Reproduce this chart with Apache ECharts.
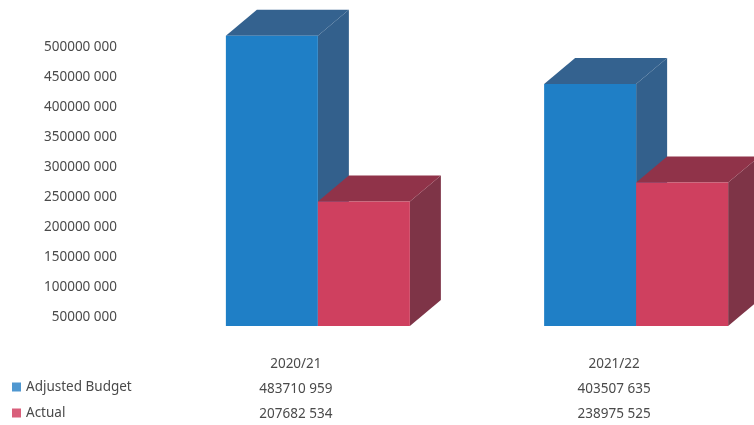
<!DOCTYPE html>
<html>
<head>
<meta charset="utf-8">
<style>html,body{margin:0;padding:0;background:#fff}#c{width:754px;height:425px}</style>
<script src="https://cdn.jsdelivr.net/npm/echarts@6/dist/echarts.min.js"></script>
</head>
<body>
<div id="c"></div>
<script>
const categories = ['2020/21', '2021/22'];
const adjustedBudget = [483710959, 403507635];
const actual = [207682534, 238975525];
const seriesNames = ['Adjusted Budget', 'Actual'];
const axisTicks = [50000000, 100000000, 150000000, 200000000, 250000000, 300000000, 350000000, 400000000, 450000000, 500000000];

const FONT = '"Noto Sans", "Open Sans", sans-serif';
const TEXT = '#4a4a4a';
const BAR_W = 92, DX = 31, DY = 26, SHIFT = 22;

function fmt(v) {
  const s = String(v);
  return s.slice(0, -3) + ' ' + s.slice(-3);
}

function bar3d(side, front, top, right) {
  return function (params, api) {
    const idx = api.value(0);
    const c = api.coord([idx, api.value(1)]);
    const b = api.coord([idx, 0]);
    const x0 = c[0] + SHIFT + (side === 0 ? -BAR_W : 0);
    const x1 = x0 + BAR_W;
    const y0 = c[1], y1 = b[1];
    return {
      type: 'group',
      children: [
        { type: 'polygon', shape: { points: [[x1, y0], [x1 + DX, y0 - DY], [x1 + DX, y1 - DY], [x1, y1]] }, style: { fill: right } },
        { type: 'polygon', shape: { points: [[x0, y0], [x0 + DX, y0 - DY], [x1 + DX, y0 - DY], [x1, y0]] }, style: { fill: top } },
        { type: 'rect', shape: { x: x0, y: y0, width: BAR_W, height: y1 - y0 }, style: { fill: front } }
      ]
    };
  };
}

const chart = echarts.init(document.getElementById('c'), null, { renderer: 'canvas' });
chart.setOption({
  animation: false,
  backgroundColor: '#ffffff',
  grid: { left: 136.75, top: -4, width: 636.5, height: 330, containLabel: false, outerBoundsMode: 'none' },
  legend: {
    orient: 'vertical', left: 12, top: 380, height: 45, padding: 0,
    itemWidth: 9, itemHeight: 9, itemGap: 12,
    icon: 'rect',
    textStyle: { fontFamily: FONT, fontSize: 13.5, color: TEXT },
    data: [
      { name: seriesNames[0], itemStyle: { color: '#4f97d0' } },
      { name: seriesNames[1], itemStyle: { color: '#d95f7b' } }
    ]
  },
  xAxis: {
    type: 'category',
    data: categories,
    axisLine: { show: false },
    axisTick: { show: false },
    axisLabel: {
      margin: 26,
      interval: 0,
      fontFamily: FONT,
      fontSize: 13.5,
      color: TEXT,
      lineHeight: 25,
      formatter: function (v, i) {
        return v + '\n' + fmt(adjustedBudget[i]) + '\n' + fmt(actual[i]);
      }
    }
  },
  yAxis: {
    type: 'value',
    min: 0,
    max: axisTicks[axisTicks.length - 1] + axisTicks[0],
    interval: axisTicks[0],
    splitLine: { show: false },
    axisLine: { show: false },
    axisTick: { show: false },
    axisLabel: {
      margin: 19.75,
      showMinLabel: false,
      showMaxLabel: false,
      hideOverlap: false,
      fontFamily: FONT,
      fontSize: 13.5,
      color: TEXT,
      verticalAlign: 'top',
      lineHeight: 42,
      formatter: function (v) { return fmt(v); }
    }
  },
  series: [
    {
      name: seriesNames[0], type: 'custom', clip: false,
      itemStyle: { color: '#4f97d0' },
      encode: { x: 0, y: 1 },
      data: categories.map(function (c, i) { return [i, adjustedBudget[i]]; }),
      renderItem: bar3d(0, '#1f7fc6', '#34628f', '#33608c')
    },
    {
      name: seriesNames[1], type: 'custom', clip: false,
      itemStyle: { color: '#d95f7b' },
      encode: { x: 0, y: 1 },
      data: categories.map(function (c, i) { return [i, actual[i]]; }),
      renderItem: bar3d(1, '#cf405f', '#903349', '#7e3447')
    }
  ]
});
</script>
</body>
</html>
